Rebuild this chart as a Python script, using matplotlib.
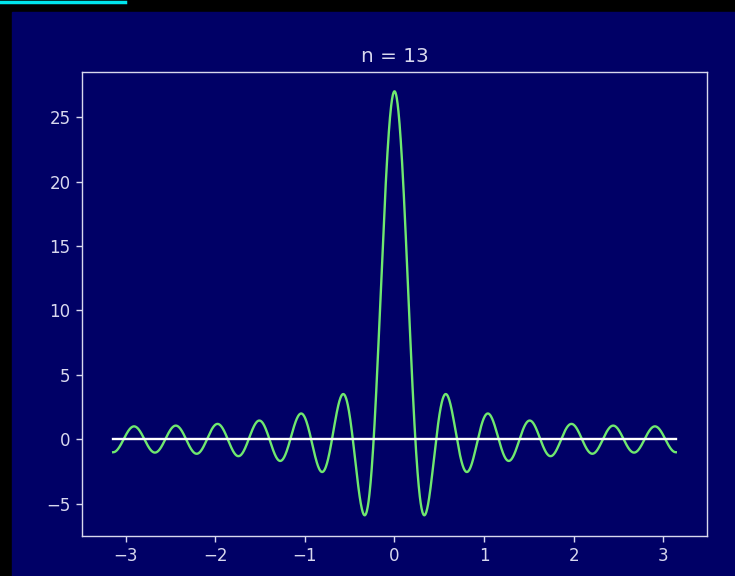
#!/usr/bin/env python3
import matplotlib
matplotlib.use('Agg')
import matplotlib.pyplot as plt
import numpy as np

# Dirichlet kernel D_n(x) = sin((n + 1/2) x) / sin(x / 2), the chart's parameter is in the title
n = 13
x_min, x_max = -np.pi, np.pi
x_ticks = [-3, -2, -1, 0, 1, 2, 3]
y_ticks = [-5, 0, 5, 10, 15, 20, 25]

navy = '#000066'
fg = '#d8d8ee'

def dirichlet(x, n):
    s = np.sin(x / 2)
    out = np.full_like(x, 2 * n + 1.0)
    nz = np.abs(s) > 1e-12
    out[nz] = np.sin((n + 0.5) * x[nz]) / s[nz]
    return out

def main():
    fig = plt.figure(figsize=(7.35, 5.76), dpi=100, facecolor='black')
    # navy panel and the cyan bar of the screenshot
    fig.add_artist(plt.Rectangle((12 / 735, 0), 1 - 12 / 735, 1 - 12 / 576,
                                 transform=fig.transFigure, color=navy, zorder=-10))
    fig.add_artist(plt.Line2D([0, 125 / 735], [1 - 2 / 576, 1 - 2 / 576],
                              transform=fig.transFigure, color='#00e5ee', lw=2.5, zorder=-5))

    ax = fig.add_axes([82 / 735, 1 - 536 / 576, 625 / 735, 464 / 576])
    ax.set_facecolor(navy)

    x = np.linspace(x_min, x_max, 2001)
    ax.plot(x, dirichlet(x, n), color='#6fe86f', lw=1.7)
    ax.plot([x_min, x_max], [0, 0], color='white', lw=1.7)

    ax.set_xticks(x_ticks)
    ax.set_yticks(y_ticks)
    ax.set_xlim(-3.49, 3.49)
    ax.set_ylim(-7.5, 28.5)
    ax.set_title('n = %d' % n, color=fg, fontsize=14.4, pad=7)
    ax.tick_params(colors=fg, labelsize=12, length=4.2, width=1, pad=4)
    for sp in ax.spines.values():
        sp.set_color(fg)
        sp.set_linewidth(1)

    fig.savefig('out.png', facecolor=fig.get_facecolor())

if __name__ == '__main__':
    main()
